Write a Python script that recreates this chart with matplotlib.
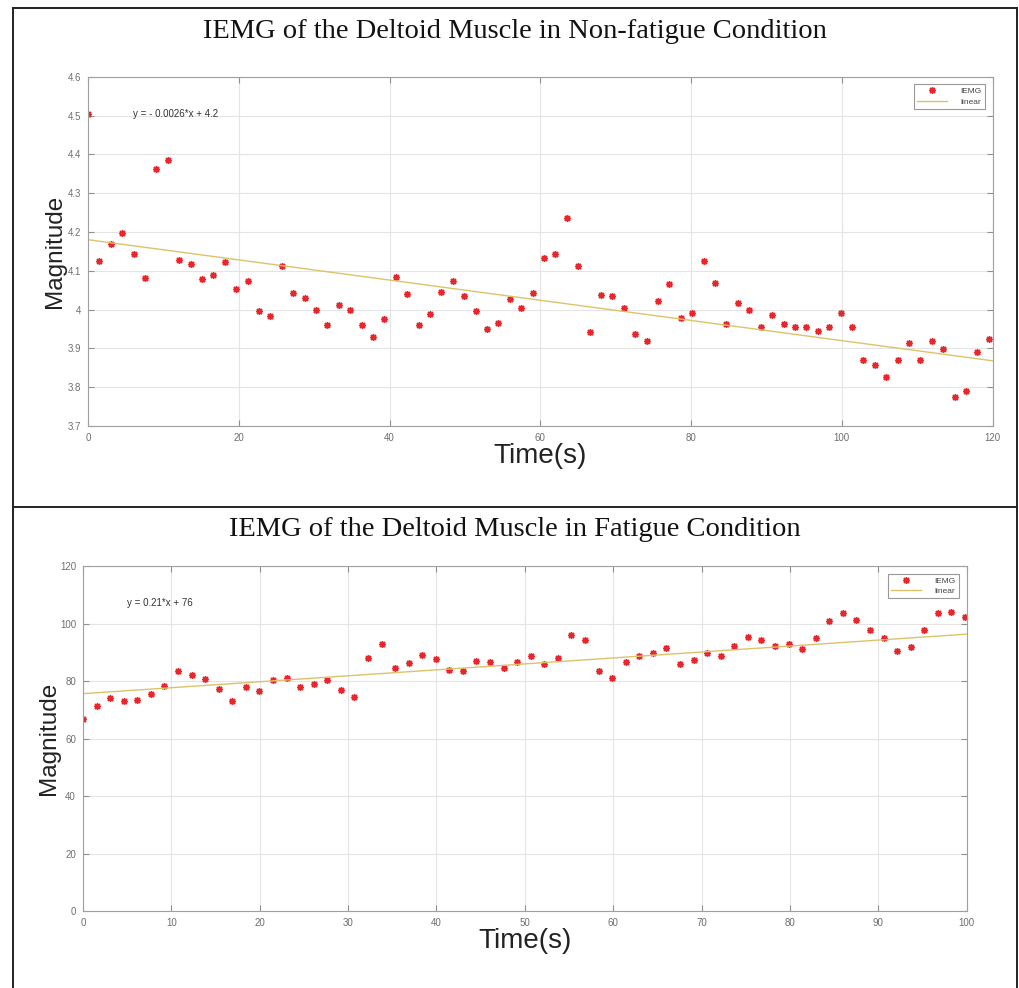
import numpy as np
import matplotlib
matplotlib.use('Agg')
import matplotlib.pyplot as plt
from matplotlib.lines import Line2D
from matplotlib.ticker import FormatStrFormatter

# IEMG samples, non-fatigue run (0-120 s)
rest_time = np.linspace(0, 119.5, 80)
rest_iemg = [4.505, 4.125, 4.170, 4.198, 4.142, 4.082, 4.362, 4.386, 4.129, 4.118,
             4.079, 4.088, 4.123, 4.052, 4.074, 3.996, 3.984, 4.112, 4.042, 4.031,
             3.999, 3.959, 4.012, 3.998, 3.960, 3.929, 3.976, 4.083, 4.039, 3.961,
             3.988, 4.044, 4.074, 4.034, 3.997, 3.949, 3.965, 4.028, 4.003, 4.042,
             4.133, 4.143, 4.237, 4.111, 3.942, 4.037, 4.034, 4.004, 3.936, 3.920,
             4.021, 4.065, 3.978, 3.992, 4.124, 4.069, 3.963, 4.016, 3.998, 3.955,
             3.986, 3.962, 3.955, 3.955, 3.944, 3.954, 3.990, 3.956, 3.871, 3.858,
             3.826, 3.870, 3.914, 3.870, 3.918, 3.898, 3.774, 3.789, 3.890, 3.923]
rest_fit = (-0.0026, 4.18)      # slope, intercept of the linear trend

# IEMG samples, fatigue run (0-100 s)
fatigue_time = np.linspace(0, 99.8, 66)
fatigue_iemg = [66.7, 71.3, 74.2, 73.1, 73.3, 75.6, 78.1, 83.4, 82.1, 80.7,
                77.3, 72.9, 77.9, 76.5, 80.2, 81.0, 77.8, 79.0, 80.2, 77.0,
                74.3, 88.1, 92.8, 84.5, 86.2, 89.0, 87.8, 83.7, 83.4, 87.1,
                86.6, 84.5, 86.6, 88.7, 85.9, 88.0, 95.9, 94.4, 83.6, 81.2,
                86.6, 88.6, 89.8, 91.6, 85.8, 87.4, 89.8, 88.6, 92.2, 95.3,
                94.3, 92.2, 92.8, 91.2, 94.9, 100.7, 103.5, 101.3, 97.6, 94.9,
                90.6, 91.7, 97.6, 103.5, 104.0, 102.2]
fatigue_fit = (0.207, 75.6)

titles = ['IEMG of the Deltoid Muscle in Non-fatigue Condition',
          'IEMG of the Deltoid Muscle in Fatigue Condition']

W, H = 1019, 988
SANS = 'Liberation Sans'
GRAY = '#6e6e6e'


def fx(px):
    return px / W


def fy(py):
    return 1 - py / H


def equation(slope, icpt):
    sign = '- ' if slope < 0 else ''
    return 'y = %s%s*x + %s' % (sign, '%.2g' % abs(slope), '%.2g' % icpt)


def draw_panel(fig, rect, t, y, fit, xlim, ylim, yticks, xticks, eq_pos, ylabelpad):
    ax = fig.add_axes(rect)
    slope, icpt = fit
    xs = np.array(xlim, dtype=float)
    ax.plot(t, y, linestyle='none', marker=(8, 2, 0), color='#e8262b',
            markersize=5, markeredgewidth=1.0, label='IEMG')
    ax.plot(xs, slope * xs + icpt, color='#dcc36a', lw=1.0, label='linear')
    ax.set_xlim(xlim)
    ax.set_ylim(ylim)
    ax.set_xticks(xticks)
    ax.set_yticks(yticks)
    ax.yaxis.set_major_formatter(FormatStrFormatter('%g'))
    ax.grid(True, color='#e4e4e4', lw=0.8)
    ax.set_axisbelow(True)
    for s in ax.spines.values():
        s.set_color('#a0a0a0')
        s.set_linewidth(0.8)
    ax.tick_params(direction='in', length=4, top=True, right=True,
                   color='#909090', labelcolor=GRAY, labelsize=7, pad=5)
    for lab in ax.get_xticklabels() + ax.get_yticklabels():
        lab.set_family(SANS)
    ax.set_xlabel('Time(s)', family=SANS, fontsize=20, labelpad=0, color='#222222')
    ax.set_ylabel('Magnitude', family=SANS, fontsize=17.5, labelpad=ylabelpad,
                  color='#222222')
    ax.text(eq_pos[0], eq_pos[1], equation(slope, icpt), ha='left', va='center',
            family=SANS, fontsize=7, color='#333333')
    leg = ax.legend(loc='upper right', frameon=True, fancybox=False,
                    borderaxespad=0.9, handlelength=3.6, handletextpad=1.6,
                    borderpad=0.4, labelspacing=0.3, prop={'family': SANS, 'size': 6})
    leg.get_frame().set_edgecolor('#808080')
    leg.get_frame().set_linewidth(0.8)
    for txt in leg.get_texts():
        txt.set_color('#444444')
    return ax


fig = plt.figure(figsize=(W / 100, H / 100), dpi=100)

draw_panel(fig, [fx(88), fy(426), fx(992.5 - 88), (426 - 76.7) / H],
           rest_time, rest_iemg, rest_fit, (0, 120), (3.7, 4.6),
           np.arange(3.7, 4.61, 0.1), np.arange(0, 121, 20), (6.0, 4.505), 1)
draw_panel(fig, [fx(83), fy(911), fx(966.7 - 83), (911 - 566) / H],
           fatigue_time, fatigue_iemg, fatigue_fit, (0, 100), (0, 120),
           np.arange(0, 121, 20), np.arange(0, 101, 10), (5.0, 107.1), 0)

fig.text(fx(515), fy(31), titles[0], ha='center', va='center',
         family='Liberation Serif', fontsize=20.5, color='#111111')
fig.text(fx(515), fy(529.5), titles[1], ha='center', va='center',
         family='Liberation Serif', fontsize=20.5, color='#111111')

# table frame around both panels
frame = dict(color='#222222', lw=1.4, transform=fig.transFigure)
fig.add_artist(Line2D([fx(12.5), fx(12.5)], [fy(8.5), 0], **frame))
fig.add_artist(Line2D([fx(1017), fx(1017)], [fy(8.5), 0], **frame))
fig.add_artist(Line2D([fx(12.5), fx(1017)], [fy(8.5), fy(8.5)], **frame))
fig.add_artist(Line2D([fx(12.5), fx(1017)], [fy(507), fy(507)], **frame))

fig.savefig('out.png', dpi=100)
plt.close('all')
